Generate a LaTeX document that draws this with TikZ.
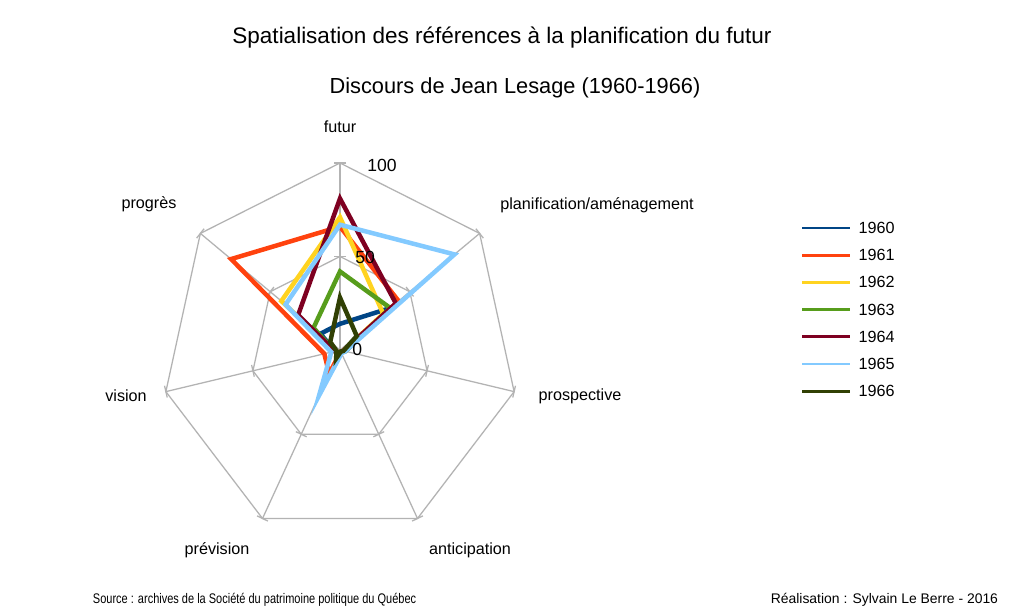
\documentclass[tikz,border=0pt]{standalone}
\usepackage{fontspec}
\setmainfont{Liberation Sans}
\newfontfamily\narrowfont[FakeStretch=0.79]{Liberation Sans}
\usepackage{tikz}
\usetikzlibrary{positioning,calc}
\definecolor{gridgray}{HTML}{B3B3B3}
\definecolor{s1960}{HTML}{004586}
\definecolor{s1961}{HTML}{FF420E}
\definecolor{s1962}{HTML}{FFD320}
\definecolor{s1963}{HTML}{579D1C}
\definecolor{s1964}{HTML}{7E0021}
\definecolor{s1965}{HTML}{83CAFF}
\definecolor{s1966}{HTML}{314004}

\begin{document}
\begin{tikzpicture}[x=0.025cm,y=-0.025cm,
    grid/.style={draw=gridgray,line width=0.9pt},
    serie/.style={line width=3.2pt,line join=miter},
    legline/.style={line width=2.1pt},
    axlabel/.style={font=\fontsize{11.5}{13}\selectfont},
    ticklabel/.style={font=\fontsize{12.5}{14}\selectfont,anchor=west,inner sep=0pt},
    foot/.style={font=\fontsize{9.9}{11}\selectfont}]
  \useasboundingbox[fill=white] (0,0) rectangle (1009,614);
  % titles
  \node[font=\fontsize{16}{18}\selectfont] (titre) at (502,38) {Spatialisation des références à la planification du futur};
  \node[font=\fontsize{15.5}{18}\selectfont] (soustitre) at (515,88) {Discours de Jean Lesage (1960-1966)};
  % grid
  \coordinate (c) at (340,350);
  \foreach \k in {0,...,6} {
    \coordinate (o\k) at ({340+178.6*sin(\k*360/7)},{350-187*cos(\k*360/7)});
    \coordinate (m\k) at ({340+89.3*sin(\k*360/7)},{350-93.5*cos(\k*360/7)});
    \draw[grid] (c) -- (o\k);
    \draw[grid] ($(m\k)+({6*cos(\k*360/7)},{6*sin(\k*360/7)})$) -- ($(m\k)-({6*cos(\k*360/7)},{6*sin(\k*360/7)})$);
    \draw[grid] ($(o\k)+({6*cos(\k*360/7)},{6*sin(\k*360/7)})$) -- ($(o\k)-({6*cos(\k*360/7)},{6*sin(\k*360/7)})$);
  }
  \draw[grid] (c) ++(-6,0) -- ++(12,0);
  \draw[grid] (o0) -- (o1) -- (o2) -- (o3) -- (o4) -- (o5) -- (o6) -- cycle;
  \draw[grid] (m0) -- (m1) -- (m2) -- (m3) -- (m4) -- (m5) -- (m6) -- cycle;
  % series
  \foreach \yr/\vals in {1960/{14,36,3,1,2,3,14},
                         1961/{66,42,2,1,14,9,78},
                         1962/{71,31,2,1,2,3,42},
                         1963/{42,36,3,1,2,3,19},
                         1964/{81,40,2,1,2,3,30},
                         1965/{67,82,3,2,27,5,39},
                         1966/{28,12,2,1,5,2,7}} {
    \foreach \v [count=\k from 0] in \vals
      \coordinate (p\k) at ({340+1.786*\v*sin(\k*360/7)},{350-1.87*\v*cos(\k*360/7)});
    \draw[serie,draw=s\yr] (p0) -- (p1) -- (p2) -- (p3) -- (p4) -- (p5) -- (p6) -- cycle;
  }
  % scale values
  \node[ticklabel] (t100) at (367,165) {100};
  \node[ticklabel] (t50) at (355,257) {50};
  \node[ticklabel] (t0) at (352,349) {0};
  % axis names
  \node[axlabel] (futur) at (340,127) {futur};
  \node[axlabel] (planif) at (597,205) {planification/aménagement};
  \node[axlabel] (prospective) at (580,396) {prospective};
  \node[axlabel] (anticipation) at (470,550) {anticipation};
  \node[axlabel] (prevision) at (217,550) {prévision};
  \node[axlabel] (vision) at (126,396) {vision};
  \node[axlabel] (progres) at (149,204) {progrès};
  % legend
  \foreach \yr [count=\i from 0] in {1960,1961,1962,1963,1964,1965,1966} {
    \coordinate (la\yr) at (802,{228+27.2*\i});
    \coordinate (lb\yr) at (850,{228+27.2*\i});
    \draw[legline,draw=s\yr] (la\yr) -- (lb\yr);
    \node[axlabel,anchor=west,inner sep=1pt] (leg\yr) at ([xshift=5]lb\yr) {\yr};
  }
  % footer
  \node[foot,anchor=west] (source) at (88,600) {\narrowfont Source : archives de la Société du patrimoine politique du Québec};
  \node[foot,anchor=east] (realisation) at (1003,600) {Réalisation : Sylvain Le Berre - 2016};
\end{tikzpicture}
\end{document}
